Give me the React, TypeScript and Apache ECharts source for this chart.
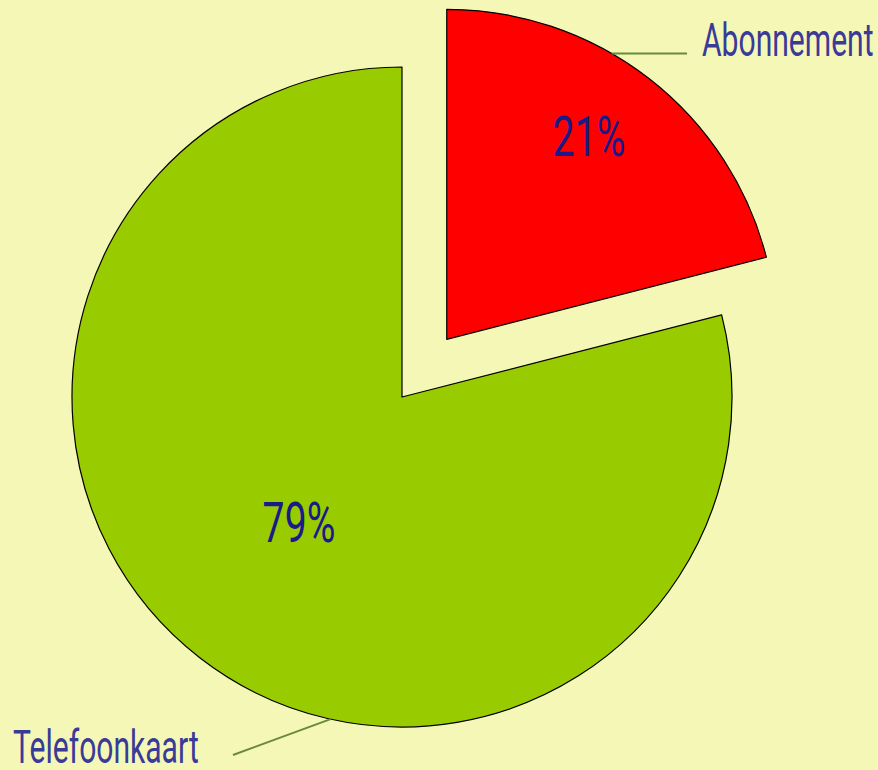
import React, { useEffect, useRef } from "react";
import * as echarts from "echarts";

const categories = ["Abonnement", "Telefoonkaart"];
const values = [21, 79];
const colors = ["#FF0000", "#99CC00"];

const FONT = "Roboto, 'Liberation Sans', Arial, sans-serif";
const CX = 402;
const CY = 397;
const R = 330;
const OFFSET = 73;

export default function App() {
  const ref = useRef<HTMLDivElement>(null);
  useEffect(() => {
    document.body.style.margin = "0";
    const chart = echarts.init(ref.current!, null, { renderer: "svg" });
    const total = values.reduce((a, b) => a + b, 0);
    const pct = values.map((v) => Math.round((v / total) * 100) + "%");

    // geometry helpers (angles in degrees, clockwise from 12 o'clock)
    const pt = (cx: number, cy: number, r: number, a: number) => {
      const rad = (a * Math.PI) / 180;
      return [cx + r * Math.sin(rad), cy - r * Math.cos(rad)];
    };
    const redMid = ((values[0] / total) * 360) / 2;
    const [rcx, rcy] = pt(CX, CY, OFFSET, redMid);
    const redLineStart = pt(rcx, rcy, R, 30);
    const greenLineStart = pt(CX, CY, R, 192.5);

    const lineStyle = { stroke: "#6A8A3A", lineWidth: 2 };
    const outerText = (text: string, x: number, y: number) => ({
      type: "text",
      x,
      y,
      z: 100,
      scaleX: 0.64,
      style: {
        text,
        x: 0,
        y: 0,
        fill: "#3A3A98",
        font: `400 47px ${FONT}`,
        lineHeight: 40,
        align: "left",
        verticalAlign: "middle",
      },
      silent: true,
    });
    const innerText = (text: string, x: number, y: number) => ({
      type: "text",
      x,
      y,
      z: 100,
      scaleX: 0.7,
      style: {
        text,
        x: 0,
        y: 0,
        fill: "#1A1A88",
        font: `400 56px ${FONT}`,
        align: "center",
        verticalAlign: "middle",
      },
      silent: true,
    });

    chart.setOption({
      animation: false,
      backgroundColor: "#F5F7B6",
      series: [
        {
          type: "pie",
          center: [CX, CY],
          radius: [0, R],
          startAngle: 90,
          clockwise: true,
          selectedMode: "single",
          selectedOffset: OFFSET,
          emphasis: { disabled: true },
          itemStyle: { borderColor: "#000", borderWidth: 1.2 },
          label: { show: false },
          labelLine: { show: false },
          data: categories.map((name, i) => ({
            name,
            value: values[i],
            selected: i === 0,
            itemStyle: { color: colors[i] },
          })),
        },
      ],
      graphic: [
        {
          type: "line",
          z: 100,
          shape: { x1: redLineStart[0], y1: redLineStart[1], x2: 687, y2: redLineStart[1] },
          style: lineStyle,
          silent: true,
        },
        {
          type: "line",
          z: 100,
          shape: { x1: greenLineStart[0], y1: greenLineStart[1], x2: 233, y2: 755 },
          style: lineStyle,
          silent: true,
        },
        outerText(categories[0], 702, 40),
        outerText(categories[1], 13, 747),
        innerText(pct[0], 589, 137),
        innerText(pct[1], 299, 523),
      ],
    });
    return () => chart.dispose();
  }, []);
  return <div ref={ref} style={{ width: 878, height: 770 }} />;
}
